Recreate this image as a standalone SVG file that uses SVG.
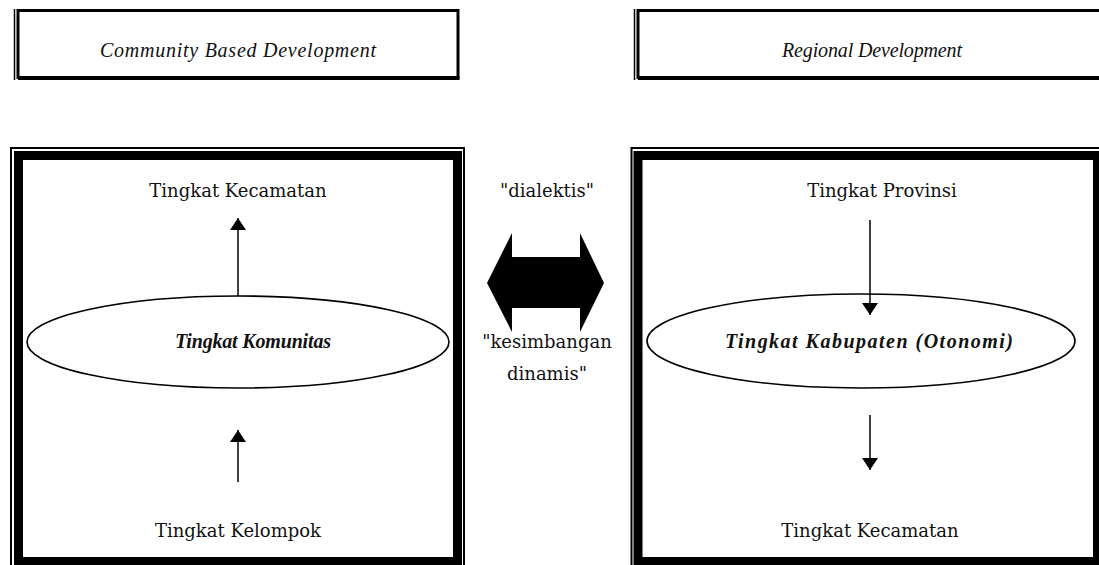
<svg xmlns="http://www.w3.org/2000/svg" width="1099" height="565" viewBox="0 0 1099 565">
<style>
.reg{font-family:"DejaVu Serif","Liberation Serif",serif;font-size:18px;fill:#111;text-anchor:middle}
.it{font-family:"Liberation Serif",serif;font-style:italic;font-size:20px;fill:#111;text-anchor:middle}
.bi{font-family:"Liberation Serif",serif;font-style:italic;font-weight:bold;font-size:20px;fill:#111;text-anchor:middle}
.thin{fill:none;stroke:#000;stroke-width:2}
.thick{fill:none;stroke:#000;stroke-width:9}
.hdr{fill:none;stroke:#000;stroke-width:3}
.ln{stroke:#000;stroke-width:1.5;fill:none}
.ell{fill:none;stroke:#000;stroke-width:1.6}
</style>
<defs>
<marker id="ah" viewBox="0 0 12 16" refX="12" refY="8" markerWidth="12" markerHeight="16" markerUnits="userSpaceOnUse" orient="auto">
<path d="M0,0 L12,8 L0,16 Z" fill="#000"/>
</marker>
</defs>
<g id="header-community">
<rect class="hdr" x="18" y="10.5" width="440" height="67"/>
<line x1="18" y1="78" x2="459.5" y2="78" stroke="#000" stroke-width="4"/>
<line x1="14.5" y1="9" x2="14.5" y2="80" stroke="#000" stroke-width="1.5"/>
<text class="it" x="238" y="57" textLength="276">Community Based Development</text>
</g>
<g id="header-regional">
<rect class="hdr" x="638" y="10.5" width="470" height="67"/>
<line x1="638" y1="78" x2="1099" y2="78" stroke="#000" stroke-width="4"/>
<line x1="634.5" y1="9" x2="634.5" y2="80" stroke="#000" stroke-width="1.5"/>
<text class="it" x="872" y="57" textLength="180">Regional Development</text>
</g>
<g id="box-community">
<rect class="thin" x="11" y="148" width="453" height="440"/>
<rect class="thick" x="18.5" y="155.5" width="439" height="406"/>
</g>
<g id="box-regional">
<rect class="thin" x="631.5" y="148" width="480" height="440"/>
<rect class="thick" x="638" y="155.5" width="459.5" height="406"/>
</g>
<g id="node-kecamatan-left"><text class="reg" x="238" y="197">Tingkat Kecamatan</text></g>
<g id="node-komunitas">
<ellipse class="ell" cx="238" cy="342" rx="211" ry="46"/>
<text class="bi" x="253" y="348" textLength="156">Tingkat Komunitas</text>
</g>
<g id="node-kelompok"><text class="reg" x="238" y="537">Tingkat Kelompok</text></g>
<g id="node-provinsi"><text class="reg" x="882" y="197">Tingkat Provinsi</text></g>
<g id="node-kabupaten">
<ellipse class="ell" cx="861" cy="341" rx="214" ry="47"/>
<text class="bi" x="869" y="348" textLength="288">Tingkat Kabupaten (Otonomi)</text>
</g>
<g id="node-kecamatan-right"><text class="reg" x="870" y="537">Tingkat Kecamatan</text></g>
<g id="relation">
<polygon points="487,283 512,233 512,257 580,257 580,233 604,283 580,332 580,308 512,308 512,332" fill="#000"/>
<text class="reg" x="547" y="197">"dialektis"</text>
<text class="reg" x="547" y="348">"kesimbangan</text>
<text class="reg" x="547" y="380">dinamis"</text>
</g>
<g id="connectors">
<line class="ln" x1="238" y1="296" x2="238" y2="218" marker-end="url(#ah)"/>
<line class="ln" x1="238" y1="482" x2="238" y2="430" marker-end="url(#ah)"/>
<line class="ln" x1="870" y1="220" x2="870" y2="315" marker-end="url(#ah)"/>
<line class="ln" x1="870" y1="415" x2="870" y2="470" marker-end="url(#ah)"/>
</g>
</svg>
